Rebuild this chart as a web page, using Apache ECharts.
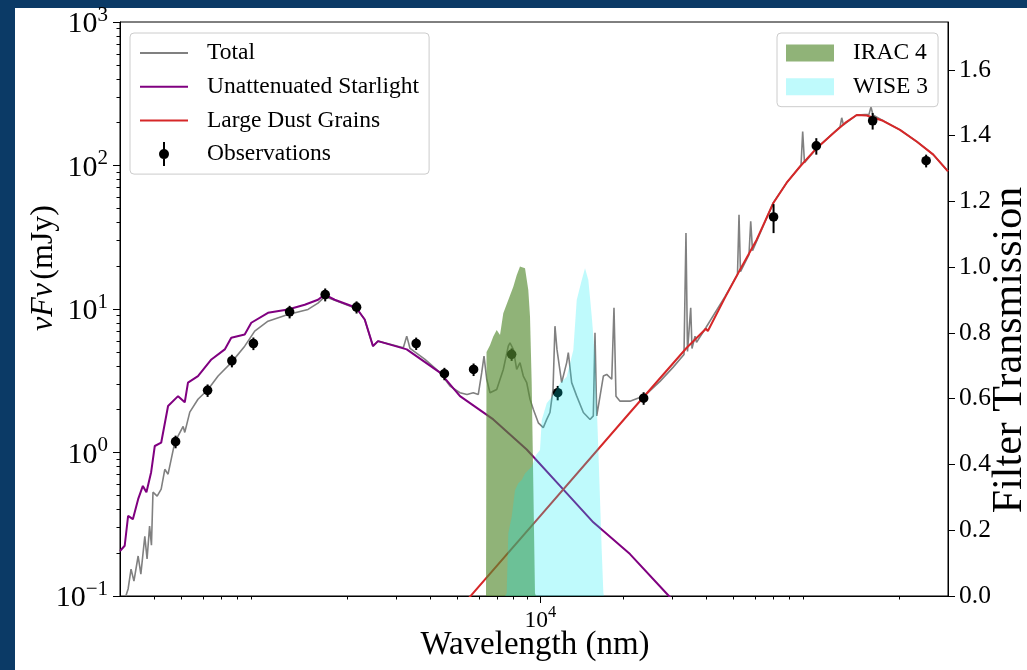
<!DOCTYPE html>
<html>
<head>
<meta charset="utf-8">
<script src="https://cdn.jsdelivr.net/npm/echarts@6/dist/echarts.min.js"></script>
<style>
  html, body { margin: 0; padding: 0; background: #ffffff; }
  #chart { width: 1027px; height: 670px; }
</style>
</head>
<body>
<div id="chart"></div>
<script>
// ---- SED model components (wavelength in nm, flux nuFnu in mJy) ----
const totalWave = [315, 321, 329, 337, 349, 357, 369, 376, 384, 390, 395, 409, 423, 436, 448, 474, 508, 515, 537, 575,
  625, 680, 759, 849, 923, 1031, 1218, 1440, 1565, 1655, 1799, 2154, 2311, 2476, 2582, 2975, 3189, 3281, 3373, 3821,
  4331, 4708, 5117, 5425, 5716, 5961, 6133, 6252, 6394, 6572, 6950, 7343, 7656, 7765, 7982, 8211, 8441, 8677, 8927, 9176,
  9431, 9834, 10250, 10550, 10840, 11120, 11300, 11490, 11950, 12460, 12630, 12990, 13550, 14320, 15140, 15560, 15780, 16010, 16460, 16920,
  17400, 18150, 18490, 18800, 19450, 21130, 23950, 27140, 30250, 33160, 33710, 34140, 35070, 35450, 36350, 36810, 39840, 40510, 46680, 51810,
  52470, 53120, 57030, 57850, 58730, 69870, 78100, 88030, 89250, 90600, 100300, 115200, 121900, 123600, 125400, 140100, 155200, 157800, 160400, 174500,
  201000, 230900, 265400, 300000];
const totalFlux = [0.100, 0.112, 0.154, 0.127, 0.190, 0.142, 0.261, 0.181, 0.307, 0.226, 0.529, 0.497, 0.555, 0.764, 0.706, 1.18, 1.52, 1.38, 1.91, 2.35,
  2.75, 3.41, 4.23, 5.51, 7.01, 8.22, 9.16, 9.93, 11.0, 12.2, 11.5, 10.1, 8.45, 5.51, 5.97, 5.57, 5.37, 6.47, 5.31, 4.45,
  3.60, 2.90, 2.61, 2.54, 2.61, 2.54, 3.60, 4.70, 3.24, 2.61, 2.75, 3.79, 5.51, 5.82, 5.23, 3.79, 4.23, 3.41, 3.07, 2.35,
  2.00, 1.61, 1.49, 1.70, 1.90, 2.75, 7.59, 5.23, 3.07, 4.23, 4.96, 3.07, 2.47, 1.90, 1.70, 1.80, 6.83, 1.80, 2.47, 3.41,
  3.50, 3.24, 10.2, 2.47, 2.28, 2.28, 2.50, 3.13, 3.92, 4.82, 33.9, 5.06, 10.2, 5.31, 6.47, 5.85, 7.43, 7.20, 12.2, 17.4,
  45.4, 18.2, 23.9, 40.8, 25.5, 55.1, 75.9, 100.4, 172.6, 104.5, 132, 168, 186, 215, 192, 225, 227, 256, 225, 205,
  177, 147, 119, 91];

const starWave = [300, 312, 321, 334, 349, 363, 374, 389, 401, 423, 448, 487, 515, 529, 575, 643, 719, 759, 849, 897,
  1031, 1218, 1401, 1565, 1655, 1799, 2154, 2311, 2476, 2582, 3281, 4331, 5117, 6755, 8927, 11786, 15560, 21130, 29010, 34850];
const starFlux = [0.206, 0.224, 0.362, 0.343, 0.473, 0.585, 0.528, 0.729, 1.11, 1.17, 2.11, 2.47, 2.24, 3.07, 3.41, 4.45, 5.23, 6.31, 6.65, 8.02,
  9.41, 9.93, 10.7, 11.6, 12.6, 11.6, 10.2, 8.45, 5.51, 5.97, 5.23, 3.60, 2.47, 1.70, 1.05, 0.585, 0.326, 0.196, 0.1016, 0.069];

const dustWave = [5470, 10000, 21130, 33920, 39800, 40460, 46680, 52910, 60810, 69870, 78100, 87310, 100300, 115200, 127200,
  140100, 152300, 174500, 201000, 230900, 265400, 300000];
const dustFlux = [0.0953, 0.362, 1.90, 5.37, 7.28, 7.03, 12.0, 18.8, 30.4, 54.8, 75.9, 98.4, 132, 168, 198,
  225, 223, 205, 177, 147, 119, 91];

// ---- photometry ----
const obsWave = [477, 623, 763, 913, 1235, 1662, 2159, 3550, 4493, 5731, 7872, 11560, 23680, 70000, 100000, 160000, 250000];
const obsFlux = [1.19, 2.71, 4.36, 5.75, 9.56, 12.6, 10.3, 5.75, 3.54, 3.79, 4.83, 2.61, 2.39, 43.8, 137, 205, 108];
const obsErr  = [0.12, 0.27, 0.44, 0.58, 0.96, 1.3, 1.0, 0.57, 0.35, 0.38, 0.48, 0.3, 0.24, 10, 18, 27, 11];

// ---- filter transmission curves ----
const irac4Wave  = [6357, 6384, 6572, 6755, 6950, 7145, 7343, 7656, 7982, 8211, 8441, 8801, 9046, 9176, 9306, 9431, 9565, 9645];
const irac4Trans = [0, 0.742, 0.763, 0.789, 0.809, 0.794, 0.860, 0.900, 0.941, 0.976, 1.002, 0.997, 0.931, 0.850, 0.647, 0.343, 0.008, 0];
const wise3Wave  = [7447, 7553, 7656, 7876, 8096, 8322, 8561, 8801, 9046, 9306, 9645, 9975, 10120, 10550, 11120, 11790, 12460, 13170,
  13550, 14130, 14520, 14930, 15360, 15780, 16230, 16690, 16920, 17010];
const wise3Trans = [0, 0.009, 0.191, 0.241, 0.322, 0.343, 0.353, 0.373, 0.383, 0.393, 0.429, 0.444, 0.535, 0.586, 0.611, 0.647, 0.667, 0.748,
  0.900, 0.961, 0.997, 0.961, 0.850, 0.728, 0.444, 0.140, 0.009, 0];

// ---- axis ticks ----
const xMajorTicks = [10000];
const xMinorTicks = [400, 500, 600, 700, 800, 900, 2000, 3000, 4000, 5000, 6000, 7000, 8000, 9000,
  20000, 30000, 40000, 50000, 60000, 70000, 80000, 90000, 200000];
const yMajorTicks = [0.1, 1, 10, 100, 1000];
const yMinorTicks = [0.2, 0.3, 0.4, 0.5, 0.6, 0.7, 0.8, 0.9, 2, 3, 4, 5, 6, 7, 8, 9,
  20, 30, 40, 50, 60, 70, 80, 90, 200, 300, 400, 500, 600, 700, 800, 900];
const transTicks = [0, 0.2, 0.4, 0.6, 0.8, 1.0, 1.2, 1.4, 1.6];

const FONT = "'Liberation Serif', 'Times New Roman', serif";
const zip = (xs, ys) => xs.map((x, i) => [x, ys[i]]);

function powLabel(v) {
  const e = Math.round(Math.log10(v));
  const s = e < 0 ? '\u2212' + (-e) : String(e);
  return '{b|10}{s|' + s + '}';
}
function supRich(base, sup) {
  return {
    b: { fontFamily: FONT, fontSize: base, color: '#000', lineHeight: base + 5, verticalAlign: 'bottom' },
    s: { fontFamily: FONT, fontSize: sup, color: '#000', lineHeight: sup, verticalAlign: 'top' }
  };
}

const axisBlack = { show: true, lineStyle: { color: '#000', width: 1 } };
const lineIcon = 'path://M0,-1L48,-1L48,1L0,1Z';
const obsIcon = 'path://M-1,-12L1,-12L1,12L-1,12Z M0,-5A5,5 0 1 1 0,5A5,5 0 1 1 0,-5Z';

const chart = echarts.init(document.getElementById('chart'), null, { renderer: 'canvas' });

chart.setOption({
  animation: false,
  backgroundColor: '#ffffff',
  grid: { left: 120, right: 79, top: 22, bottom: 74, show: true, borderColor: '#000', borderWidth: 1, backgroundColor: 'transparent' },
  xAxis: [
    {
      type: 'log', logBase: 10, min: 300, max: 300000, position: 'bottom',
      axisLine: axisBlack,
      axisTick: { show: true, inside: false, length: 7, lineStyle: { color: '#000', width: 1 }, customValues: xMajorTicks },
      axisLabel: { show: true, margin: 8, customValues: xMajorTicks, formatter: powLabel, rich: supRich(23.5, 16.5) },
      splitLine: { show: false }
    },
    {
      type: 'log', logBase: 10, min: 300, max: 300000, position: 'bottom',
      axisLine: { show: false },
      axisTick: { show: true, inside: false, length: 3.5, lineStyle: { color: '#000', width: 1 }, customValues: xMinorTicks },
      axisLabel: { show: false },
      splitLine: { show: false }
    }
  ],
  yAxis: [
    {
      type: 'log', logBase: 10, min: 0.1, max: 1000, position: 'left',
      axisLine: axisBlack,
      axisTick: { show: true, inside: false, length: 7, lineStyle: { color: '#000', width: 1 }, customValues: yMajorTicks },
      axisLabel: { show: true, margin: 12, customValues: yMajorTicks, formatter: powLabel, rich: supRich(30, 21) },
      splitLine: { show: false }
    },
    {
      type: 'log', logBase: 10, min: 0.1, max: 1000, position: 'left',
      axisLine: { show: false },
      axisTick: { show: true, inside: false, length: 3.5, lineStyle: { color: '#000', width: 1 }, customValues: yMinorTicks },
      axisLabel: { show: false },
      splitLine: { show: false }
    },
    {
      type: 'value', min: 0, max: 1.746, position: 'right',
      axisLine: axisBlack,
      axisTick: { show: true, inside: false, length: 7, lineStyle: { color: '#000', width: 1 }, customValues: transTicks },
      axisLabel: { show: true, margin: 11, customValues: transTicks, fontFamily: FONT, fontSize: 25.5, color: '#000',
        formatter: v => v.toFixed(1) },
      splitLine: { show: false }
    }
  ],
  legend: [
    {
      data: [
        { name: 'Total', icon: lineIcon },
        { name: 'Unattenuated Starlight', icon: lineIcon },
        { name: 'Large Dust Grains', icon: lineIcon },
        { name: 'Observations', icon: obsIcon }
      ],
      orient: 'vertical', left: 130, top: 33,
      itemWidth: 48, itemHeight: 24, itemGap: 9.7,
      padding: [8, 10, 8, 10],
      backgroundColor: 'rgba(255,255,255,0.8)', borderColor: '#cccccc', borderWidth: 1, borderRadius: 4,
      textStyle: { fontFamily: FONT, fontSize: 23.5, color: '#000', lineHeight: 24, padding: [0, 0, 0, 14] },
      selectedMode: false
    },
    {
      data: ['IRAC 4', 'WISE 3'], icon: 'rect',
      orient: 'vertical', left: 777, top: 33,
      itemWidth: 48, itemHeight: 17, itemGap: 9.7,
      padding: [8, 10, 8, 9],
      backgroundColor: 'rgba(255,255,255,0.8)', borderColor: '#cccccc', borderWidth: 1, borderRadius: 4,
      textStyle: { fontFamily: FONT, fontSize: 23.5, color: '#000', lineHeight: 24, padding: [0, 0, 0, 14] },
      selectedMode: false
    }
  ],
  series: [
    {
      name: 'Total', type: 'line', xAxisIndex: 0, yAxisIndex: 0,
      data: zip(totalWave, totalFlux), symbol: 'none', showSymbol: false,
      lineStyle: { color: '#808080', width: 1.6 }, itemStyle: { color: '#808080' }, z: 2
    },
    {
      name: 'Unattenuated Starlight', type: 'line', xAxisIndex: 0, yAxisIndex: 0,
      data: zip(starWave, starFlux), symbol: 'none', showSymbol: false,
      lineStyle: { color: '#800080', width: 2 }, itemStyle: { color: '#800080' }, z: 2
    },
    {
      name: 'Large Dust Grains', type: 'line', xAxisIndex: 0, yAxisIndex: 0,
      data: zip(dustWave, dustFlux), symbol: 'none', showSymbol: false,
      lineStyle: { color: '#d62728', width: 2 }, itemStyle: { color: '#d62728' }, z: 2
    },
    {
      name: 'Observations', type: 'custom', xAxisIndex: 0, yAxisIndex: 0,
      data: obsWave.map((w, i) => [w, obsFlux[i], obsErr[i]]),
      encode: { x: 0, y: 1 },
      itemStyle: { color: '#000' }, z: 3,
      renderItem: (params, api) => {
        const w = api.value(0), f = api.value(1), e = api.value(2);
        const c = api.coord([w, f]);
        const lo = api.coord([w, f - e]);
        const hi = api.coord([w, f + e]);
        return {
          type: 'group',
          children: [
            { type: 'line', shape: { x1: c[0], y1: lo[1], x2: c[0], y2: hi[1] }, style: { stroke: '#000', lineWidth: 2 } },
            { type: 'circle', shape: { cx: c[0], cy: c[1], r: 4.8 }, style: { fill: '#000' } }
          ]
        };
      }
    },
    {
      name: 'IRAC 4', type: 'line', xAxisIndex: 0, yAxisIndex: 2,
      data: zip(irac4Wave, irac4Trans), symbol: 'none', showSymbol: false,
      lineStyle: { width: 0 }, itemStyle: { color: 'rgba(85,139,47,0.65)' },
      areaStyle: { color: 'rgba(85,139,47,0.65)', opacity: 1 }, z: 5
    },
    {
      name: 'WISE 3', type: 'line', xAxisIndex: 0, yAxisIndex: 2,
      data: zip(wise3Wave, wise3Trans), symbol: 'none', showSymbol: false,
      lineStyle: { width: 0 }, itemStyle: { color: 'rgba(0,235,245,0.25)' },
      areaStyle: { color: 'rgba(0,235,245,0.25)', opacity: 1 }, z: 6
    }
  ],
  graphic: [
    { type: 'rect', left: 0, top: 0, shape: { width: 15, height: 670 }, style: { fill: '#0b3a66' }, silent: true },
    { type: 'rect', left: 0, top: 0, shape: { width: 1027, height: 8 }, style: { fill: '#0b3a66' }, silent: true },
    {
      type: 'text', x: 535, y: 645,
      style: { text: 'Wavelength (nm)', font: '33px ' + FONT, fill: '#000', textAlign: 'center', textVerticalAlign: 'middle' }
    },
    {
      type: 'text', x: 44, y: 268, rotation: Math.PI / 2,
      style: {
        text: '{i|\u03bdF\u03bd} {n|(mJy)}', textAlign: 'center', textVerticalAlign: 'middle',
        rich: {
          i: { fontFamily: FONT, fontSize: 32, fontStyle: 'italic', fill: '#000' },
          n: { fontFamily: FONT, fontSize: 32, fill: '#000' }
        }
      }
    },
    {
      type: 'text', x: 1010, y: 350, rotation: Math.PI / 2,
      style: { text: 'Filter Transmission', font: '42px ' + FONT, fill: '#000', textAlign: 'center', textVerticalAlign: 'middle' }
    }
  ]
});
</script>
</body>
</html>
